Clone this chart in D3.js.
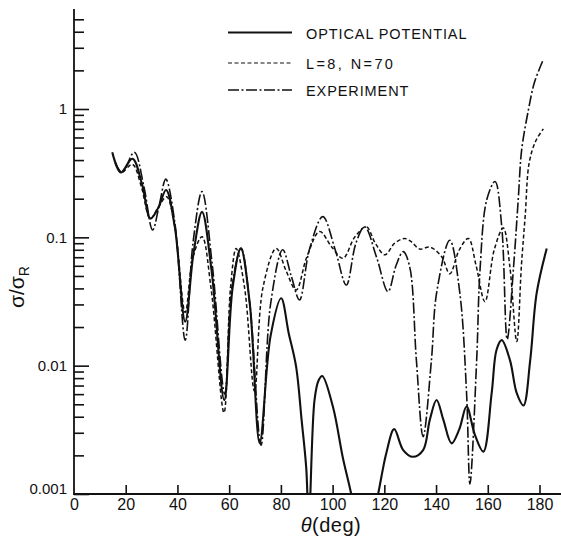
<!DOCTYPE html>
<html>
<head>
<meta charset="utf-8">
<script src="https://cdn.jsdelivr.net/npm/d3@7"></script>
<style>
  html, body { margin: 0; padding: 0; background: #fff; }
  svg { display: block; }
  text { font-family: "Liberation Sans", Arial, sans-serif; fill: #111; }
</style>
</head>
<body>
<svg id="chart" width="561" height="537"></svg>
<script>
// ---- Data ----
const optTheta  = [14.8, 18.1, 22.6, 26.3, 29.6, 32.6, 35.6, 39, 43, 46.2, 49.5, 53.2, 58.1, 61.3, 64.5, 68, 71.8, 76, 80.1, 83, 85.9, 88, 89.8, 90.8, 93, 94.6, 96, 100.1, 104, 107.2, 112, 117.6, 120.8, 123.8, 127.3, 131, 135, 137.6, 140.2, 142.8, 146, 149, 151.8, 155, 158.3, 161.5, 163.4, 165.4, 168.6, 171.2, 173.8, 176.4, 178.9, 182.8];
const optValues = [0.46, 0.32, 0.41, 0.26, 0.14, 0.17, 0.234, 0.12, 0.022, 0.075, 0.158, 0.055, 0.0054, 0.04, 0.082, 0.03, 0.0025, 0.017, 0.0335, 0.018, 0.0098, 0.0038, 0.0016, 0.0006, 0.0054, 0.0077, 0.0083, 0.0048, 0.0019, 0.001, 0.0003, 0.001, 0.0021, 0.0032, 0.0022, 0.00195, 0.0022, 0.0038, 0.0054, 0.0038, 0.00248, 0.0032, 0.0048, 0.0029, 0.00214, 0.0061, 0.0133, 0.0158, 0.011, 0.0061, 0.0049, 0.011, 0.0367, 0.082];

const lnTheta  = [16, 18.3, 22.6, 26, 29.5, 32.5, 35.8, 39, 43, 46, 49.5, 53, 58, 60.5, 62.7, 66, 69.8, 73, 78.2, 82, 85.9, 90, 95, 99.5, 104, 108.5, 113, 116.5, 120.2, 124, 127.9, 130.5, 133.7, 137.6, 142.1, 145.3, 149, 152.5, 155.5, 158.9, 162.5, 166, 168.5, 171.2, 173, 174.5, 176, 178.5, 181.5];
const lnValues = [0.38, 0.32, 0.37, 0.25, 0.14, 0.17, 0.207, 0.12, 0.026, 0.07, 0.101, 0.04, 0.0043, 0.04, 0.082, 0.04, 0.0063, 0.04, 0.082, 0.055, 0.0389, 0.07, 0.111, 0.085, 0.0687, 0.1, 0.121, 0.09, 0.073, 0.09, 0.098, 0.092, 0.081, 0.084, 0.071, 0.052, 0.08, 0.098, 0.06, 0.0315, 0.08, 0.118, 0.06, 0.0154, 0.06, 0.15, 0.38, 0.56, 0.7];

const expTheta  = [16, 18.6, 23.3, 27, 30.4, 33, 35.5, 39, 43, 46, 49.5, 53.5, 58.3, 61, 64.6, 68, 72.3, 76, 80.7, 84, 87.2, 91, 96.2, 101, 105.3, 109, 112.4, 117, 121.4, 124.5, 127.3, 129.8, 132.4, 135, 138.2, 140.2, 145.3, 149.2, 151.8, 153.1, 155.7, 157, 159.6, 162.8, 165.4, 167.5, 170, 171.8, 173.1, 175.7, 178, 181.4];
const expValues = [0.38, 0.32, 0.46, 0.25, 0.114, 0.18, 0.284, 0.13, 0.0158, 0.09, 0.227, 0.06, 0.006, 0.04, 0.082, 0.03, 0.0024, 0.03, 0.08, 0.05, 0.0325, 0.08, 0.145, 0.08, 0.0425, 0.09, 0.121, 0.07, 0.0378, 0.06, 0.0774, 0.059, 0.011, 0.0028, 0.011, 0.0367, 0.095, 0.0367, 0.0061, 0.0012, 0.011, 0.0557, 0.196, 0.272, 0.121, 0.016, 0.06, 0.2, 0.48, 0.98, 1.6, 2.41];

const xTickValues = [0, 20, 40, 60, 80, 100, 120, 140, 160, 180];
const yMajorTicks = [0.001, 0.01, 0.1, 1];
const yMajorLabels = ["0.001", "0.01", "0.1", "1"];
const yMinorTicks = [
  0.002, 0.003, 0.004, 0.005, 0.006, 0.007, 0.008, 0.009,
  0.02, 0.03, 0.04, 0.05, 0.06, 0.07, 0.08, 0.09,
  0.2, 0.3, 0.4, 0.5, 0.6, 0.7, 0.8, 0.9,
  2, 3, 4, 5
];
const legendLabels = ["OPTICAL POTENTIAL", "L=8, N=70", "EXPERIMENT"];

// ---- Layout ----
const svg = d3.select("#chart");
const x = d3.scaleLinear().domain([0, 180]).range([74, 539.5]);
const y = d3.scaleLog().domain([0.001, 1]).range([494, 109]);

const styles = [
  { width: 2.1, dash: null },
  { width: 1.5, dash: "4,2.5" },
  { width: 1.6, dash: "11,2.5,2,2.5" }
];

svg.append("defs").append("clipPath").attr("id", "plotclip")
  .append("rect").attr("x", 74).attr("y", 0).attr("width", 487).attr("height", 494);

// axes
const yMajorAxis = d3.axisLeft(y).tickValues(yMajorTicks)
  .tickFormat((d, i) => yMajorLabels[i]).tickSizeInner(-15).tickSizeOuter(0).tickPadding(7);
const yMinorAxis = d3.axisLeft(y).tickValues(yMinorTicks)
  .tickFormat("").tickSizeInner(-10).tickSizeOuter(0);

const gyMinor = svg.append("g").attr("transform", "translate(74,0)").call(yMinorAxis);
const gyMajor = svg.append("g").attr("transform", "translate(74,0)").call(yMajorAxis);
[gyMinor, gyMajor].forEach(g => {
  g.select(".domain").remove();
  g.selectAll(".tick line").attr("stroke", "#111").attr("stroke-width", 1.6);
});
gyMajor.selectAll(".tick text").attr("font-size", 15).attr("fill", "#111")
  .attr("font-family", "Liberation Sans, Arial, sans-serif")
  .attr("dy", (d) => d === 0.001 ? "-0.05em" : "0.32em");

const xAxis = d3.axisBottom(x).tickValues(xTickValues).tickFormat(d3.format("d"))
  .tickSizeInner(-9).tickSizeOuter(0).tickPadding(5);
const gx = svg.append("g").attr("transform", "translate(0,494)").call(xAxis);
gx.select(".domain").remove();
gx.selectAll(".tick line").attr("stroke", "#111").attr("stroke-width", 1.6)
  .attr("opacity", d => d === 0 ? 0 : 1);
gx.selectAll(".tick text").attr("font-size", 16).attr("fill", "#111")
  .attr("font-family", "Liberation Sans, Arial, sans-serif");

// axis lines
svg.append("line").attr("x1", 74).attr("x2", 74).attr("y1", 9).attr("y2", 494.8)
  .attr("stroke", "#111").attr("stroke-width", 1.8);
svg.append("line").attr("x1", 73.2).attr("x2", 561).attr("y1", 494).attr("y2", 494)
  .attr("stroke", "#111").attr("stroke-width", 1.8);

// axis titles
const xt = svg.append("text").attr("x", 331).attr("y", 532).attr("text-anchor", "middle")
  .attr("font-size", 20).attr("letter-spacing", 0.5);
xt.append("tspan").attr("font-style", "italic").text("θ");
xt.append("tspan").text("(deg)");

const yt = svg.append("text").attr("transform", "translate(24,287) rotate(-90)")
  .attr("text-anchor", "middle").attr("font-size", 21);
yt.append("tspan").text("σ/σ");
yt.append("tspan").attr("font-size", 14).attr("dy", "0.35em").text("R");

// curves
const line = d3.line()
  .x(d => x(d[0]))
  .y(d => y(d[1]))
  .curve(d3.curveCatmullRom.alpha(0.5));

const seriesList = [
  d3.zip(optTheta, optValues),
  d3.zip(lnTheta, lnValues),
  d3.zip(expTheta, expValues)
];

const plot = svg.append("g").attr("clip-path", "url(#plotclip)");
seriesList.forEach((s, i) => {
  plot.append("path").datum(s)
    .attr("d", line)
    .attr("fill", "none")
    .attr("stroke", "#111")
    .attr("stroke-width", styles[i].width)
    .attr("stroke-dasharray", styles[i].dash)
    .attr("stroke-linejoin", "round");
});

// legend
const legendY = [32.5, 63, 90];
const legendSpacing = [0.9, 2.4, 0.9];
legendLabels.forEach((lab, i) => {
  svg.append("line").attr("x1", 228).attr("x2", 292)
    .attr("y1", legendY[i]).attr("y2", legendY[i])
    .attr("stroke", "#111").attr("stroke-width", styles[i].width - 0.3)
    .attr("stroke-dasharray", styles[i].dash);
  svg.append("text").attr("x", 306).attr("y", legendY[i] + 6)
    .attr("font-size", 14.5).attr("letter-spacing", legendSpacing[i]).text(lab);
});
</script>
</body>
</html>
